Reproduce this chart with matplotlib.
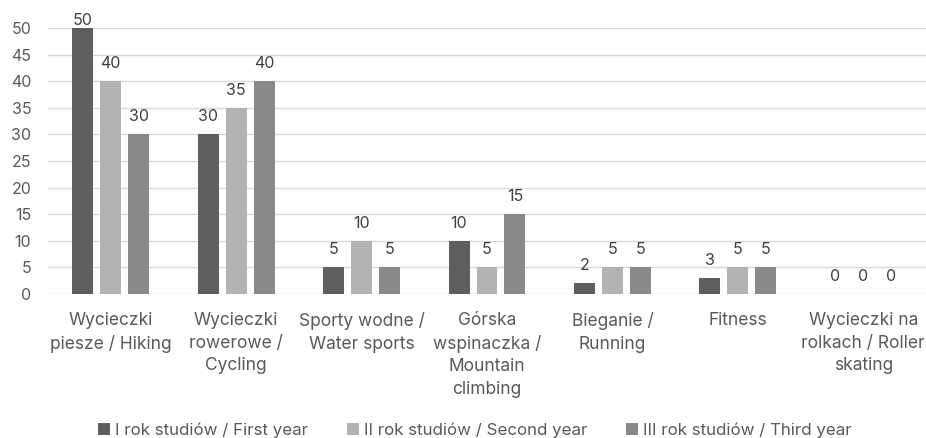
import matplotlib
matplotlib.use("Agg")
import matplotlib.pyplot as plt
from matplotlib.patches import Patch
import numpy as np

categories = [
    "Wycieczki\npiesze / Hiking",
    "Wycieczki\nrowerowe /\nCycling",
    "Sporty wodne /\nWater sports",
    "Górska\nwspinaczka /\nMountain\nclimbing",
    "Bieganie /\nRunning",
    "Fitness",
    "Wycieczki na\nrolkach / Roller\nskating",
]
series_names = [
    "I rok studiów / First year",
    "II rok studiów / Second year",
    "III rok studiów / Third year",
]
first_year = [50, 30, 5, 10, 2, 3, 0]
second_year = [40, 35, 10, 5, 5, 5, 0]
third_year = [30, 40, 5, 15, 5, 5, 0]
y_ticks = [0, 5, 10, 15, 20, 25, 30, 35, 40, 45, 50]

colors = ["#5f5f5f", "#b3b3b3", "#898989"]
text_color = "#595959"
font = ["Inter", "DejaVu Sans"]

fig = plt.figure(figsize=(9.26, 4.38), dpi=100)
ax = fig.add_axes([48 / 926, 1 - 294 / 438, 878 / 926, (294 - 28) / 438])

y_max = 50
x = np.arange(len(categories))
width = 0.167
step = 0.223
for i, (vals, c) in enumerate(zip([first_year, second_year, third_year], colors)):
    pos = x + (i - 1) * step
    ax.bar(pos, vals, width=width, color=c, zorder=3)
    for p, v in zip(pos, vals):
        # labels sit above the bar end, kept inside the plot area at the top
        ax.text(p, min(v + 2.45, y_max + 0.55), f"{v}", ha="center", va="baseline",
                fontsize=11.5, color="#404040", family=font)

ax.set_xlim(-0.5, len(categories) - 0.5)
ax.set_ylim(0, y_max)
ax.set_yticks(y_ticks)
ax.set_yticklabels([str(t) for t in y_ticks], family=font, fontsize=11.5, color=text_color)
ax.yaxis.grid(True, color="#d9d9d9", linewidth=1.0, zorder=0)
ax.set_axisbelow(True)
for s in ax.spines.values():
    s.set_visible(False)
ax.tick_params(axis="both", length=0)
ax.tick_params(axis="y", pad=12)
ax.set_xticks(x)
ax.set_xticklabels(categories, family=font, fontsize=12.5, color=text_color,
                   linespacing=1.42, va="top")
ax.tick_params(axis="x", pad=13)

handles = [Patch(facecolor=c) for c in colors]
fig.legend(handles, series_names, loc="center", bbox_to_anchor=(475 / 926, 8 / 438),
           ncol=3, frameon=False, handlelength=0.7, handleheight=0.7,
           handletextpad=0.3, columnspacing=2.3, borderpad=0,
           prop={"family": font, "size": 12.2}, labelcolor=text_color)

fig.savefig("out.png", dpi=100)
